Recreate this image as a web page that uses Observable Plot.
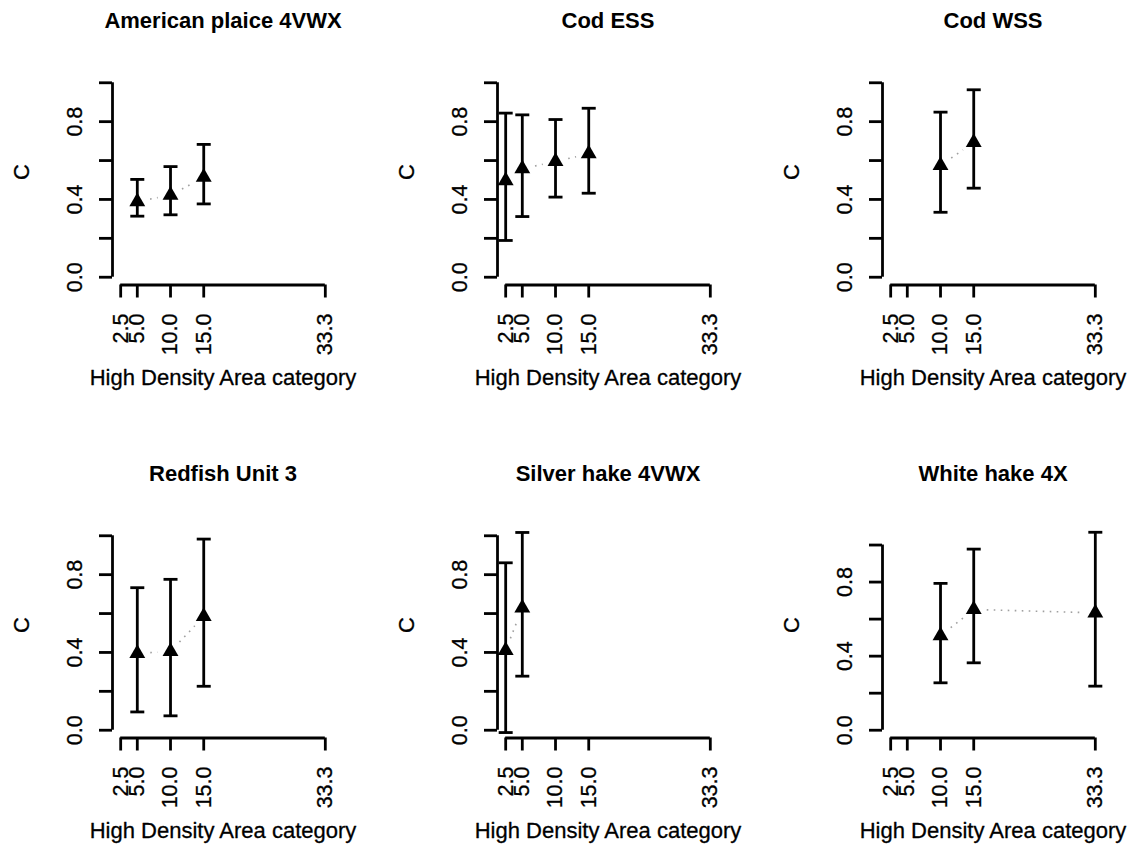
<!DOCTYPE html>
<html><head><meta charset="utf-8">
<script src="https://cdn.jsdelivr.net/npm/d3@7"></script>
<script src="https://cdn.jsdelivr.net/npm/@observablehq/plot@0.6"></script>
<style>
body{margin:0;background:#fff;}
#chart{position:relative;width:1134px;height:846px;background:#fff;overflow:hidden;}
.panel{position:absolute;}
</style></head><body><div id="chart"></div>
<script>
// ---- data ----
const panelTitles = ["American plaice 4VWX", "Cod ESS", "Cod WSS", "Redfish Unit 3", "Silver hake 4VWX", "White hake 4X"];
const xCategories = [2.5, 5, 10, 15, 33.3];
const xTickLabels = ["2.5", "5.0", "10.0", "15.0", "33.3"];
const yTicks = [0, 0.2, 0.4, 0.6, 0.8, 1.0];
const yTickLabels = [0, 0.4, 0.8];
const xTitle = "High Density Area category";
const yTitle = "C";

const plaiceX = [5, 10, 15];
const plaiceC = [0.389, 0.422, 0.514];
const plaiceLo = [0.314, 0.321, 0.377];
const plaiceHi = [0.503, 0.569, 0.683];

const codEssX = [2.5, 5, 10, 15];
const codEssC = [0.496, 0.558, 0.595, 0.635];
const codEssLo = [0.189, 0.312, 0.412, 0.432];
const codEssHi = [0.844, 0.835, 0.811, 0.869];

const codWssX = [10, 15];
const codWssC = [0.575, 0.693];
const codWssLo = [0.334, 0.458];
const codWssHi = [0.849, 0.964];

const redfishX = [5, 10, 15];
const redfishC = [0.395, 0.405, 0.585];
const redfishLo = [0.094, 0.074, 0.226];
const redfishHi = [0.733, 0.776, 0.983];

const silverX = [2.5, 5];
const silverC = [0.41, 0.629];
const silverLo = [-0.012, 0.278];
const silverHi = [0.861, 1.017];

const whiteX = [10, 15, 33.3];
const whiteC = [0.51, 0.652, 0.634];
const whiteLo = [0.256, 0.364, 0.238];
const whiteHi = [0.793, 0.978, 1.069];

const yLimitTop = [1, 1, 1, 1, 1, 1.05];

// ---- build ----
const series = [
  [plaiceX, plaiceC, plaiceLo, plaiceHi],
  [codEssX, codEssC, codEssLo, codEssHi],
  [codWssX, codWssC, codWssLo, codWssHi],
  [redfishX, redfishC, redfishLo, redfishHi],
  [silverX, silverC, silverLo, silverHi],
  [whiteX, whiteC, whiteLo, whiteHi]
];

const capSymbol = {draw(ctx) { ctx.moveTo(-7, 0); ctx.lineTo(7, 0); }};
const FONT = "'Liberation Sans', Arial, Helvetica, sans-serif";
const LW = 2.8;
const TXT = {fill: "black", stroke: "black", strokeWidth: 0.3};

const colLeft = [0, 384.5, 769.5];
const rowTop = [0, 453.3];
const chart = document.getElementById("chart");

series.forEach(([xs, cs, los, his], i) => {
  const rows = xs.map((x, j) => ({x, c: cs[j], lo: los[j], hi: his[j]}));
  const pairs = rows.slice(1).map((r, j) => ({x1: rows[j].x, y1: rows[j].c, x2: r.x, y2: r.c}));
  const xr = xCategories[xCategories.length - 1] - xCategories[0];
  const xDom = [xCategories[0] - 0.04 * xr, xCategories[xCategories.length - 1] + 0.04 * xr];
  const yMax = yLimitTop[i];
  const yDom = [-0.04 * yMax, 1.04 * yMax];

  const svg = Plot.plot({
    width: 364,
    height: 392,
    marginLeft: 112,
    marginRight: 31,
    marginTop: 74.5,
    marginBottom: 107.5,
    x: {domain: xDom, label: null},
    y: {domain: yDom, label: null},
    style: {fontFamily: FONT, fontSize: "21px", color: "black", background: "white", overflow: "visible"},
    marks: [
      Plot.arrow(pairs, {x1: "x1", y1: "y1", x2: "x2", y2: "y2", bend: 0, headLength: 0,
        insetStart: 13, insetEnd: 13, stroke: "#a0a0a0", strokeWidth: 1.6,
        strokeDasharray: "1.6,5.4", strokeLinecap: "butt"}),
      Plot.ruleX(rows, {x: "x", y1: "lo", y2: "hi", stroke: "black", strokeWidth: LW}),
      Plot.dot(rows, {x: "x", y: "lo", symbol: capSymbol, fill: "none", stroke: "black", strokeWidth: LW}),
      Plot.dot(rows, {x: "x", y: "hi", symbol: capSymbol, fill: "none", stroke: "black", strokeWidth: LW}),
      Plot.dot(rows, {x: "x", y: "c", symbol: "triangle", r: 5.9, fill: "black", stroke: "none"}),
      // axes (R style: line from first to last tick)
      Plot.ruleX([xDom[0]], {x: d => d, y1: yTicks[0], y2: yTicks[yTicks.length - 1], stroke: "black", strokeWidth: LW}),
      Plot.ruleY([yDom[0]], {y: d => d, x1: xCategories[0], x2: xCategories[xCategories.length - 1], stroke: "black", strokeWidth: LW}),
      Plot.axisX(xCategories, {tickSize: 13, fill: "none", stroke: "black", strokeWidth: LW, label: null}),
      Plot.axisY(yTicks, {tickSize: 13, fill: "none", stroke: "black", strokeWidth: LW, label: null}),
      Plot.text(xCategories, {x: d => d, text: (d, j) => xTickLabels[j], frameAnchor: "bottom", dy: 28.5,
        rotate: -90, textAnchor: "end", lineAnchor: "middle", fontSize: 21.5, ...TXT}),
      Plot.text(yTickLabels, {y: d => d, text: d => d.toFixed(1), frameAnchor: "left", dx: -31,
        rotate: -90, textAnchor: "middle", lineAnchor: "bottom", fontSize: 21.5, ...TXT}),
      Plot.text([panelTitles[i]], {frameAnchor: "top", dy: -54, lineAnchor: "middle", fontWeight: "bold", fontSize: 22, fill: "black"}),
      Plot.text([xTitle], {frameAnchor: "bottom", dy: 92.5, lineAnchor: "middle", fontSize: 22, ...TXT}),
      Plot.text([yTitle], {frameAnchor: "left", dx: -90.3, rotate: -90, lineAnchor: "middle", fontSize: 22, ...TXT})
    ]
  });
  const div = document.createElement("div");
  div.className = "panel";
  div.style.left = colLeft[i % 3] + "px";
  div.style.top = rowTop[Math.floor(i / 3)] + "px";
  div.appendChild(svg);
  chart.appendChild(div);
});
</script>
</body></html>
